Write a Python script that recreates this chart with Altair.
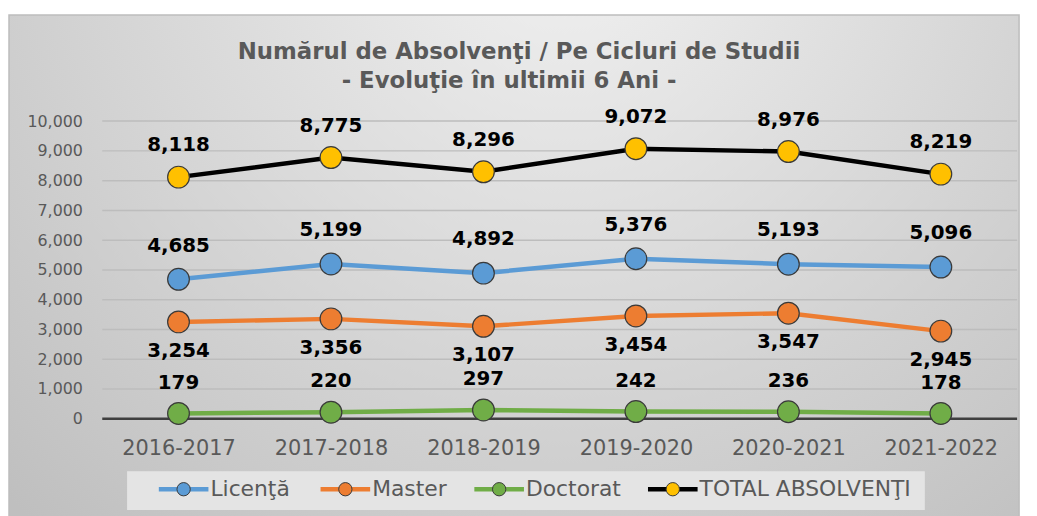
import altair as alt
import pandas as pd

# ---------------- data ----------------
years = ["2016-2017", "2017-2018", "2018-2019", "2019-2020", "2020-2021", "2021-2022"]
licenta = [4685, 5199, 4892, 5376, 5193, 5096]
master = [3254, 3356, 3107, 3454, 3547, 2945]
doctorat = [179, 220, 297, 242, 236, 178]
total = [8118, 8775, 8296, 9072, 8976, 8219]
series_names = ["Licenţă", "Master", "Doctorat", "TOTAL ABSOLVENŢI"]
y_ticks = list(range(0, 10001, 1000))
title_lines = ["Numărul de Absolvenţi / Pe Cicluri de Studii", "- Evoluţie în ultimii 6 Ani -"]

# ---------------- styles ----------------
FONT = "DejaVu Sans"
GREY_TXT = "#595959"
line_colors = ["#5B9BD5", "#ED7D31", "#70AD47", "#000000"]
point_fills = ["#5B9BD5", "#ED7D31", "#70AD47", "#FFC000"]
label_dy = [-34, 29, -31, -32]

W, H = 922, 300

rows = []
for name, vals in zip(series_names, [licenta, master, doctorat, total]):
    for yr, v in zip(years, vals):
        rows.append({"year": yr, "value": v, "series": name})
df = pd.DataFrame(rows)

X_ENC = alt.X(
    "year:N", sort=years,
    scale=alt.Scale(type="point", padding=0.5, domain=years),
    axis=alt.Axis(title=None, labelFont=FONT, labelFontSize=21, labelColor=GREY_TXT,
                  labelPadding=19, ticks=False, domain=False, grid=False, labelAngle=0, zindex=1),
)
Y_ENC = alt.Y(
    "value:Q",
    scale=alt.Scale(domain=[0, 10000], nice=False),
    axis=alt.Axis(title=None, values=y_ticks, format=",.0f", labelFont=FONT, labelFontSize=16,
                  labelColor=GREY_TXT, labelPadding=20, ticks=False, domain=False, grid=False, zindex=1),
)

one = pd.DataFrame({"a": [0]})

bg_gradient = {
    "gradient": "radial",
    "x1": 0.55, "y1": 0.15, "r1": 0,
    "x2": 0.55, "y2": 0.15, "r2": 0.8,
    "stops": [
        {"offset": 0, "color": "#f2f2f2"},
        {"offset": 1, "color": "#bfbfbf"},
    ],
}

background = alt.Chart(one).mark_rect(fill=bg_gradient, stroke="#bdbdbd", strokeWidth=1.5).encode(
    x=alt.value(-94), x2=alt.value(924), y=alt.value(-107), y2=alt.value(400)
)
legend_box = alt.Chart(one).mark_rect(fill="#e4e4e4").encode(
    x=alt.value(25), x2=alt.value(829), y=alt.value(353), y2=alt.value(392)
)

grid = alt.Chart(pd.DataFrame({"value": y_ticks[1:]})).mark_rule(
    color="#bdbdbd", strokeWidth=1.5
).encode(y=Y_ENC)
zero = alt.Chart(pd.DataFrame({"value": [0]})).mark_rule(
    color="#3f3f3f", strokeWidth=2.5
).encode(y=Y_ENC)

layers = [background, legend_box, grid, zero]

base = alt.Chart(df)
for name, lc in zip(series_names, line_colors):
    layers.append(
        base.transform_filter(alt.datum.series == name)
        .mark_line(color=lc, strokeWidth=4.5)
        .encode(x=X_ENC, y=Y_ENC)
    )
for name, pf in zip(series_names, point_fills):
    layers.append(
        base.transform_filter(alt.datum.series == name)
        .mark_point(shape="circle", filled=True, fill=pf, stroke="#3a3a3a", strokeWidth=1.2,
                    size=480, opacity=1)
        .encode(x=X_ENC, y=Y_ENC)
    )
for name, dy in zip(series_names, label_dy):
    layers.append(
        base.transform_filter(alt.datum.series == name)
        .mark_text(font=FONT, fontSize=20, fontWeight="bold", color="#000000",
                   dy=dy, baseline="middle", align="center")
        .encode(x=X_ENC, y=Y_ENC, text=alt.Text("value:Q", format=","))
    )

# manual legend
legend_x = [57, 220, 375, 550]
LEG_Y = 371
for name, lx, lc, pf in zip(series_names, legend_x, line_colors, point_fills):
    ldf = pd.DataFrame({"name": [name]})
    layers.append(alt.Chart(ldf).mark_rule(color=lc, strokeWidth=4.5).encode(
        x=alt.value(lx), x2=alt.value(lx + 50), y=alt.value(LEG_Y)))
    layers.append(alt.Chart(ldf).mark_point(shape="circle", filled=True, fill=pf, stroke="#3a3a3a",
                                            strokeWidth=1, size=180, opacity=1).encode(
        x=alt.value(lx + 25), y=alt.value(LEG_Y)))
    layers.append(alt.Chart(ldf).mark_text(font=FONT, fontSize=22, color=GREY_TXT, align="left",
                                           baseline="middle").encode(
        x=alt.value(lx + 52), y=alt.value(LEG_Y), text="name:N"))

# title
tdf = pd.DataFrame({"t": title_lines, "i": [0, 1]})
layers.append(alt.Chart(tdf).transform_filter(alt.datum.i == 0).mark_text(
    font=FONT, fontSize=23, fontWeight="bold", color=GREY_TXT, align="center", baseline="alphabetic"
).encode(x=alt.value(420), y=alt.value(-63), text="t:N"))
layers.append(alt.Chart(tdf).transform_filter(alt.datum.i == 1).mark_text(
    font=FONT, fontSize=23, fontWeight="bold", color=GREY_TXT, align="center", baseline="alphabetic"
).encode(x=alt.value(410), y=alt.value(-33), text="t:N"))

chart = alt.layer(*layers).properties(
    width=W, height=H,
    autosize=alt.AutoSizeParams(type="none"),
    padding={"left": 95, "top": 112, "right": 12, "bottom": 96},
).configure(background="#ffffff").configure_view(stroke=None)

chart.save("out.html", embed_options={"renderer": "svg", "actions": False})
